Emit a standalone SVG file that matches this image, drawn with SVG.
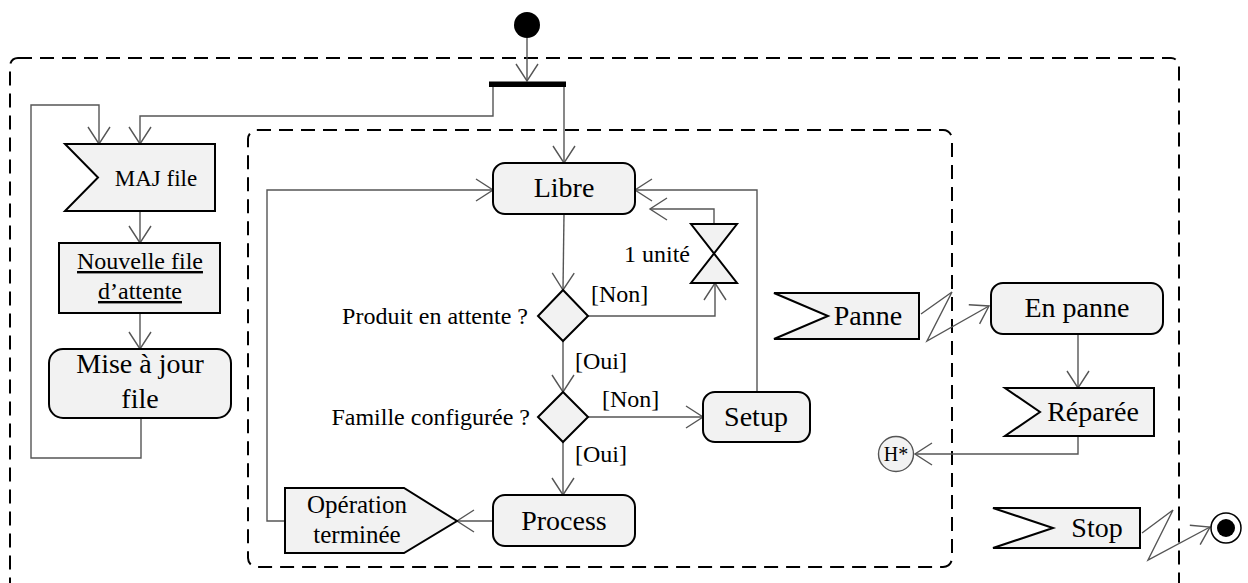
<svg xmlns="http://www.w3.org/2000/svg" width="1248" height="583" viewBox="0 0 1248 583" font-family="'Liberation Serif', 'DejaVu Serif', serif">
<style>
.node{fill:#f2f2f2;stroke:#000;stroke-width:2}
.conn{fill:none;stroke:#555;stroke-width:1.4}
.dash{fill:none;stroke:#000;stroke-width:2;stroke-dasharray:14 8}
text{font-family:'Liberation Serif','DejaVu Serif',serif;fill:#000}
.big{font-size:28px;text-anchor:middle}
.sm{font-size:24px}
.mid{text-anchor:middle}
.end{text-anchor:end}
</style>
<defs>
<marker id="arr" markerUnits="userSpaceOnUse" viewBox="-19 -13 21 26" refX="0" refY="0" markerWidth="21" markerHeight="26" orient="auto">
<path d="M-17,-11 L0,0 L-17,11" fill="none" stroke="#555" stroke-width="1.4"/>
</marker>
</defs>
<rect fill="#fff" width="1248" height="583"/>
<g id="regions">
<rect class="dash" x="10" y="58" width="1169" height="570" rx="8"/>
<rect class="dash" x="248" y="130" width="704" height="437" rx="9"/>
</g>
<g id="connectors">
<path class="conn" d="M527,38 V81" marker-end="url(#arr)"/>
<path class="conn" d="M564,87 V163" marker-end="url(#arr)"/>
<path class="conn" d="M493,87 V116 H140 V144" marker-end="url(#arr)"/>
<path class="conn" d="M140,211 V243" marker-end="url(#arr)"/>
<path class="conn" d="M140,313 V349" marker-end="url(#arr)"/>
<path class="conn" d="M141,418 V458 H31 V105 H99 V144" marker-end="url(#arr)"/>
<path class="conn" d="M564,214 L563,290" marker-end="url(#arr)"/>
<path class="conn" d="M588,316 H715 V283" marker-end="url(#arr)"/>
<path class="conn" d="M714,224 V209 H650" marker-end="url(#arr)"/>
<path class="conn" d="M563,341 V392" marker-end="url(#arr)"/>
<path class="conn" d="M588,417 H703" marker-end="url(#arr)"/>
<path class="conn" d="M757,392 V190 H635" marker-end="url(#arr)"/>
<path class="conn" d="M563,442 V495" marker-end="url(#arr)"/>
<path class="conn" d="M493,521 H457" marker-end="url(#arr)"/>
<path class="conn" d="M285,521 H267 V190 H493" marker-end="url(#arr)"/>
<path class="conn" d="M921,314 L952,292 L927,341 L989,306" marker-end="url(#arr)"/>
<path class="conn" d="M1078,334 V388" marker-end="url(#arr)"/>
<path class="conn" d="M1078,436 V454 H915" marker-end="url(#arr)"/>
<path class="conn" d="M1142,533 L1173,510 L1148,560 L1210,527" marker-end="url(#arr)"/>
</g>
<g id="start"><circle cx="527" cy="25" r="13" fill="#000"/></g>
<g id="fork"><rect x="489" y="81.5" width="77" height="5.5" fill="#000"/></g>
<g id="maj-file">
<polygon class="node" points="65,144 215,144 215,211 65,211 98,177.5"/>
<text x="156" y="186" class="mid" font-family="Liberation Serif" style="font-size:23px">MAJ file</text>
</g>
<g id="nouvelle-file">
<rect class="node" x="59" y="243" width="161" height="70"/>
<text x="140" y="269" class="sm mid" text-decoration="underline">Nouvelle file</text>
<text x="140" y="299" class="sm mid" text-decoration="underline">d’attente</text>
</g>
<g id="mise-a-jour">
<rect class="node" x="49" y="349" width="182" height="69" rx="14"/>
<text x="140" y="373" class="big">Mise à jour</text>
<text x="140" y="408" class="big">file</text>
</g>
<g id="libre">
<rect class="node" x="493" y="163" width="142" height="51" rx="12"/>
<text x="564" y="197" class="big">Libre</text>
</g>
<g id="timer">
<path class="node" d="M691,224 H737 L691,283 H737 Z"/>
<text x="690" y="262" class="sm end">1 unité</text>
</g>
<g id="produit-en-attente">
<polygon class="node" points="563,290 588,316 563,341 538,316"/>
<text x="528" y="324" class="sm end">Produit en attente ?</text>
<text x="591" y="302" class="sm">[Non]</text>
<text x="575" y="369" class="sm">[Oui]</text>
</g>
<g id="famille-configuree">
<polygon class="node" points="563,392 588,417 563,442 538,417"/>
<text x="530" y="425" class="sm end">Famille configurée ?</text>
<text x="602" y="407" class="sm">[Non]</text>
<text x="575" y="462" class="sm">[Oui]</text>
</g>
<g id="setup">
<rect class="node" x="703" y="392" width="107" height="50" rx="12"/>
<text x="756" y="426" class="big">Setup</text>
</g>
<g id="process">
<rect class="node" x="493" y="495" width="142" height="51" rx="12"/>
<text x="564" y="530" class="big">Process</text>
</g>
<g id="operation-terminee">
<polygon class="node" points="285,488 404,488 457,521 404,553 285,553"/>
<text x="357" y="513" class="mid" style="font-size:25px">Opération</text>
<text x="357" y="543" class="mid" style="font-size:25px">terminée</text>
</g>
<g id="panne">
<polygon class="node" points="774,293 919,293 919,339 774,339 828,316"/>
<text x="868" y="325" class="big">Panne</text>
</g>
<g id="en-panne">
<rect class="node" x="991" y="283" width="172" height="51" rx="12"/>
<text x="1077" y="317" class="big">En panne</text>
</g>
<g id="reparee">
<polygon class="node" points="1005,388 1154,388 1154,436 1005,436 1040,412"/>
<text x="1093" y="421" class="big">Réparée</text>
</g>
<g id="history">
<circle cx="896" cy="454" r="17.5" fill="#f2f2f2" stroke="#555" stroke-width="1.4"/>
<text x="896" y="461" class="mid" style="font-size:20px">H*</text>
</g>
<g id="stop">
<polygon class="node" points="993,508 1140,508 1140,548 993,548 1053,528"/>
<text x="1097" y="537" class="big">Stop</text>
</g>
<g id="end">
<circle cx="1226" cy="528" r="15" fill="#fff" stroke="#000" stroke-width="1.5"/>
<circle cx="1226" cy="528" r="9" fill="#000"/>
</g>
</svg>
